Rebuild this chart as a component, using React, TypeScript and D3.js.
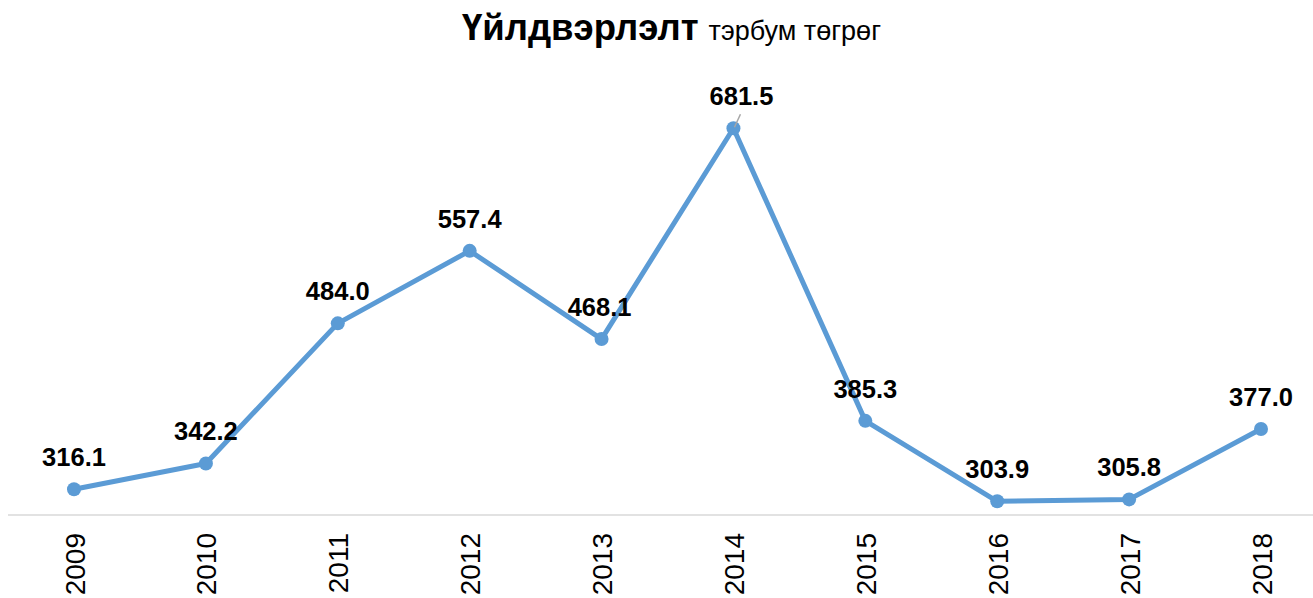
import React from "react";
import * as d3 from "d3";

const years = ["2009", "2010", "2011", "2012", "2013", "2014", "2015", "2016", "2017", "2018"];
const values = [316.1, 342.2, 484.0, 557.4, 468.1, 681.5, 385.3, 303.9, 305.8, 377.0];
const labels = ["316.1", "342.2", "484.0", "557.4", "468.1", "681.5", "385.3", "303.9", "305.8", "377.0"];

const W = 1313;
const H = 598;
const FONT = "Arial, 'Liberation Sans', Helvetica, sans-serif";
const BLUE = "#5B9BD5";

export default function App() {
  const x = d3.scalePoint<string>().domain(years).range([74, 1261]);
  const y = d3.scaleLinear().domain([290, 700]).range([515, 110]);
  const line = d3
    .line<number>()
    .x((_, i) => x(years[i]) as number)
    .y((d) => y(d));

  return (
    <svg
      width={W}
      height={H}
      style={{ position: "absolute", left: 0, top: 0, background: "#fff" }}
      fontFamily={FONT}
    >
      <text x={462} y={40} textAnchor="start" fill="#000">
        <tspan fontWeight="bold" fontSize={36.5}>Үйлдвэрлэлт</tspan>
        <tspan fontSize={27} dx={10}>тэрбум төгрөг</tspan>
      </text>

      <line x1={8} x2={1313} y1={y(290)} y2={y(290)} stroke="#d9d9d9" strokeWidth={1.5} />

      {years.map((yr) => (
        <text
          key={yr}
          transform={`translate(${(x(yr) as number) + 1},533) rotate(-90)`}
          textAnchor="end"
          dominantBaseline="central"
          fontSize={28}
          fill="#000"
        >
          {yr}
        </text>
      ))}

      <path d={line(values) || ""} fill="none" stroke={BLUE} strokeWidth={5} strokeLinejoin="round" />

      {values.map((v, i) => (
        <circle key={i} cx={x(years[i]) as number} cy={y(v)} r={7} fill={BLUE} />
      ))}

      {/* leader line for 2014 label */}
      <line
        x1={(x("2014") as number) + 1}
        y1={y(681.5) - 1}
        x2={(x("2014") as number) + 7}
        y2={y(681.5) - 14}
        stroke="#a6a6a6"
        strokeWidth={1.5}
      />

      {values.map((v, i) => {
        const dx = years[i] === "2014" ? 8 : years[i] === "2013" ? -2 : 0;
        return (
          <text
            key={i}
            x={(x(years[i]) as number) + dx}
            y={y(v) - 23}
            textAnchor="middle"
            fontWeight="bold"
            fontSize={25.5}
            fill="#000"
          >
            {labels[i]}
          </text>
        );
      })}
    </svg>
  );
}
